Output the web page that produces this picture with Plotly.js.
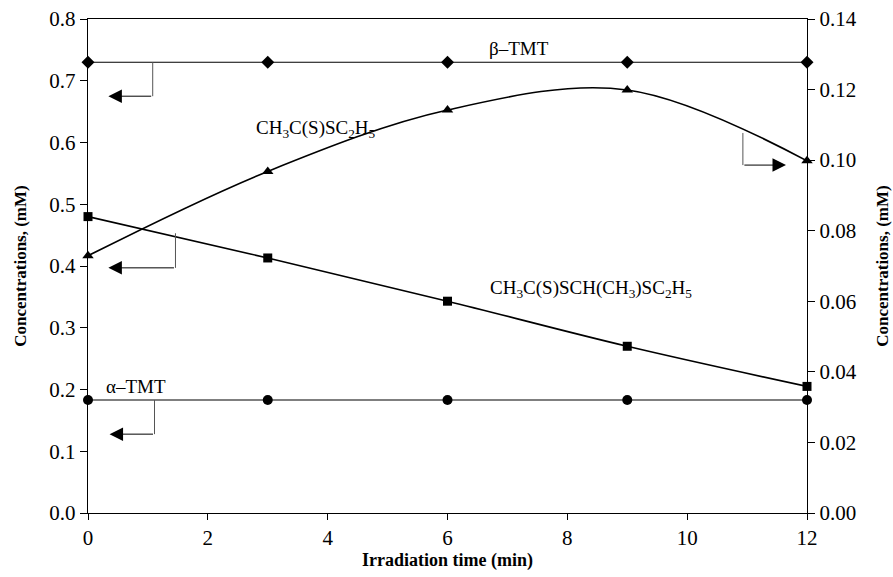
<!DOCTYPE html>
<html>
<head>
<meta charset="utf-8">
<script src="https://cdn.plot.ly/plotly-3.0.1.min.js"></script>
<style>html,body{margin:0;padding:0;background:#fff;}#chart{width:893px;height:577px;}</style>
</head>
<body>
<div id="chart"></div>
<script>
// Data
var time = [0, 3, 6, 9, 12];
var betaTMT = [0.73, 0.73, 0.73, 0.73, 0.73];          // left axis
var alphaTMT = [0.183, 0.183, 0.183, 0.183, 0.183];    // left axis
var ethylEster = [0.0729, 0.0968, 0.1142, 0.1199, 0.0998]; // CH3C(S)SC2H5, right axis
var dithioEster = [0.48, 0.413, 0.343, 0.27, 0.205];    // CH3C(S)SCH(CH3)SC2H5, left axis
var xTicks = [0, 2, 4, 6, 8, 10, 12];
var yLeftTicks = [0, 0.1, 0.2, 0.3, 0.4, 0.5, 0.6, 0.7, 0.8];
var yRightTicks = [0, 0.02, 0.04, 0.06, 0.08, 0.10, 0.12, 0.14];

var serif = 'Liberation Serif';

var traces = [
  {x: time, y: betaTMT, mode: 'lines+markers', line: {color: '#000', width: 1.2},
   marker: {symbol: 'diamond', size: 10, color: '#000'}, cliponaxis: false},
  {x: time, y: alphaTMT, mode: 'lines+markers', line: {color: '#000', width: 1.2},
   marker: {symbol: 'circle', size: 10, color: '#000'}, cliponaxis: false},
  {x: time, y: dithioEster, mode: 'lines+markers', line: {color: '#000', width: 1.6, shape: 'spline'},
   marker: {symbol: 'square', size: 9, color: '#000'}, cliponaxis: false},
  {x: time, y: ethylEster, yaxis: 'y2', mode: 'lines+markers', line: {color: '#000', width: 1.6, shape: 'spline'},
   marker: {symbol: 'triangle-up', size: 10, color: '#000'}, cliponaxis: false}
];

var gray = '#555';
function seg(xref, yref, x0, y0, x1, y1) {
  return {type: 'line', xref: xref, yref: yref, x0: x0, y0: y0, x1: x1, y1: y1, line: {color: gray, width: 1}};
}
function arrow(xref, yref, xTail, y, xHead) {
  return {xref: xref, yref: yref, axref: xref, ayref: yref, x: xHead, y: y, ax: xTail, ay: y,
          text: '', showarrow: true, arrowhead: 2, arrowsize: 2.7, arrowwidth: 1, arrowcolor: '#000'};
}

var shapes = [
  seg('x', 'y', 1.08, 0.73, 1.08, 0.675),
  seg('x', 'y', 1.46, 0.453, 1.46, 0.397),
  seg('x', 'y', 1.11, 0.183, 1.11, 0.1277),
  seg('x', 'y2', 10.93, 0.1077, 10.93, 0.0986)
];

var annFont = {family: serif, size: 19, color: '#000'};
var ann = [
  arrow('x', 'y', 1.08, 0.675, 0.34),
  arrow('x', 'y', 1.46, 0.397, 0.34),
  arrow('x', 'y', 1.11, 0.1277, 0.36),
  arrow('x', 'y2', 10.93, 0.0986, 11.65),
  {xref: 'x', yref: 'y', x: 7.2, y: 0.752, text: 'β–TMT', showarrow: false, font: annFont},
  {xref: 'x', yref: 'y', x: 3.8, y: 0.622, text: 'CH<sub>3</sub>C(S)SC<sub>2</sub>H<sub>5</sub>', showarrow: false, font: annFont},
  {xref: 'x', yref: 'y', x: 8.4, y: 0.362, text: 'CH<sub>3</sub>C(S)SCH(CH<sub>3</sub>)SC<sub>2</sub>H<sub>5</sub>', showarrow: false, font: annFont},
  {xref: 'x', yref: 'y', x: 0.8, y: 0.205, text: 'α–TMT', showarrow: false, font: annFont}
];

var layout = {
  width: 893, height: 577,
  margin: {l: 88, r: 86, t: 19, b: 64, pad: 0},
  paper_bgcolor: '#fff', plot_bgcolor: '#fff',
  showlegend: false,
  font: {family: serif, color: '#000'},
  xaxis: {
    range: [0, 12], tickvals: xTicks, ticktext: xTicks.map(String),
    showgrid: false, zeroline: false, showline: true, linecolor: '#000', linewidth: 1.2,
    ticks: 'outside', ticklen: 6, tickcolor: '#000', mirror: true,
    tickfont: {family: serif, size: 21, color: '#000'},
    title: {text: 'Irradiation time (min)', font: {family: serif, size: 18, color: '#000', weight: 'bold'}, standoff: 2}
  },
  yaxis: {
    range: [0, 0.8], tickvals: yLeftTicks, ticktext: yLeftTicks.map(function(v){return v.toFixed(1);}),
    showgrid: false, zeroline: false, showline: true, linecolor: '#000', linewidth: 1.2,
    ticks: 'outside', ticklen: 7, tickcolor: '#000',
    tickfont: {family: serif, size: 21, color: '#000'},
    title: {text: 'Concentrations, (mM)', font: {family: serif, size: 17, color: '#000', weight: 'bold'}, standoff: 18}
  },
  yaxis2: {
    overlaying: 'y', side: 'right', range: [0, 0.14],
    tickvals: yRightTicks, ticktext: yRightTicks.map(function(v){return v.toFixed(2);}),
    showgrid: false, zeroline: false, showline: true, linecolor: '#000', linewidth: 1.2,
    ticks: 'outside', ticklen: 7, tickcolor: '#000',
    tickfont: {family: serif, size: 21, color: '#000'},
    title: {text: 'Concentrations, (mM)', font: {family: serif, size: 17, color: '#000', weight: 'bold'}, standoff: 20}
  },
  shapes: shapes,
  annotations: ann
};

Plotly.newPlot('chart', traces, layout, {displayModeBar: false, staticPlot: true});
</script>
</body>
</html>
